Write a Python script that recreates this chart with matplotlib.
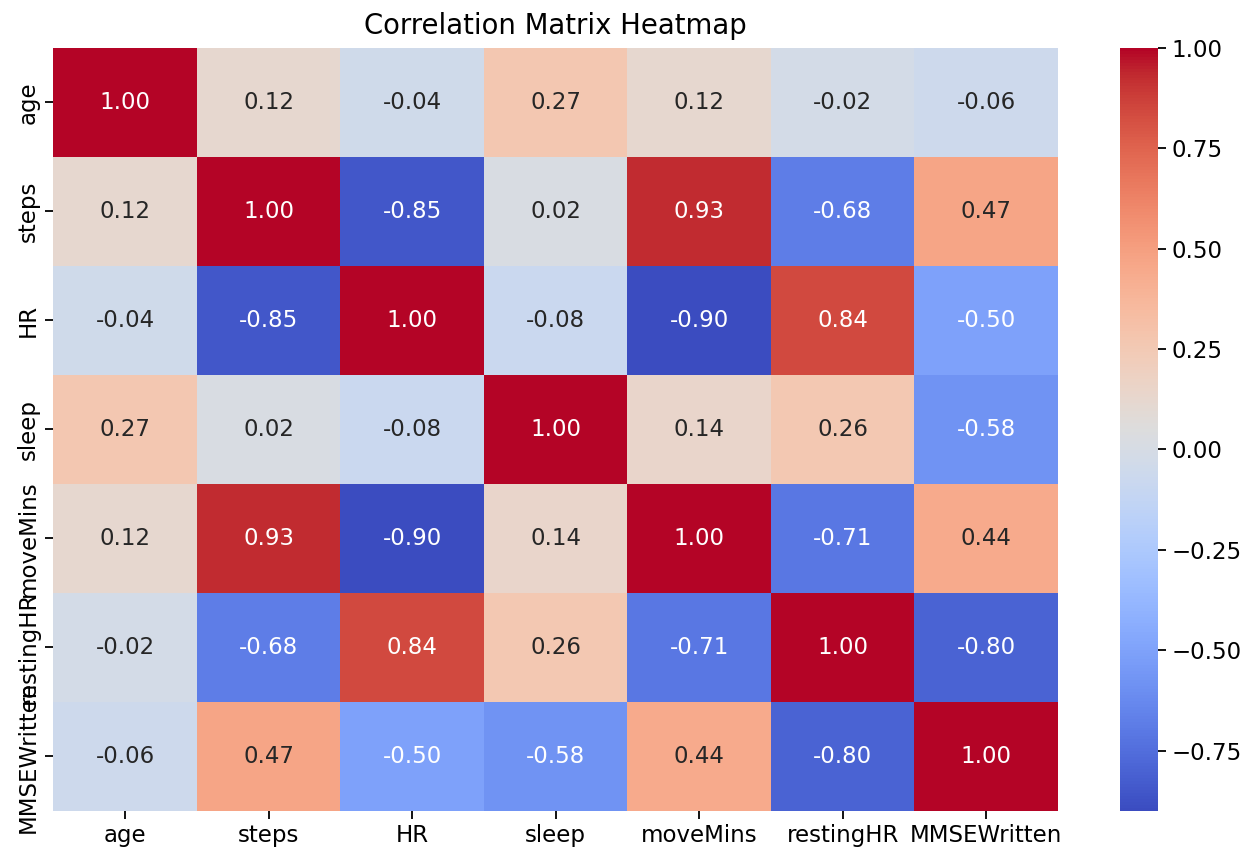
import matplotlib
matplotlib.use("Agg")
import matplotlib.pyplot as plt
import seaborn as sns
import numpy as np
import pandas as pd

labels = ["age", "steps", "HR", "sleep", "moveMins", "restingHR", "MMSEWritten"]
row_age = [1.00, 0.12, -0.04, 0.27, 0.12, -0.02, -0.06]
row_steps = [0.12, 1.00, -0.85, 0.02, 0.93, -0.68, 0.47]
row_hr = [-0.04, -0.85, 1.00, -0.08, -0.90, 0.84, -0.50]
row_sleep = [0.27, 0.02, -0.08, 1.00, 0.14, 0.26, -0.58]
row_move = [0.12, 0.93, -0.90, 0.14, 1.00, -0.71, 0.44]
row_resting = [-0.02, -0.68, 0.84, 0.26, -0.71, 1.00, -0.80]
row_mmse = [-0.06, 0.47, -0.50, -0.58, 0.44, -0.80, 1.00]

corr = pd.DataFrame([row_age, row_steps, row_hr, row_sleep, row_move, row_resting, row_mmse],
                    index=labels, columns=labels)

fs = 16.5
fig = plt.figure(figsize=(12.44, 8.49), dpi=100)
ax = fig.add_axes([53.3/1244, 1 - 811/849, (1058 - 53.3)/1244, (811 - 47.7)/849])
cax = fig.add_axes([1120/1244, 1 - 811/849, 38/1244, (811 - 47.7)/849])

sns.heatmap(corr, annot=True, fmt=".2f", cmap="coolwarm", ax=ax, cbar_ax=cax,
            annot_kws={"fontsize": fs})
ax.set_title("Correlation Matrix Heatmap", fontsize=19.8, pad=10)
ax.tick_params(axis="both", labelsize=fs, length=6, width=1.3)
cax.tick_params(labelsize=fs, length=6, width=1.3)
cax.set_yticks([-0.75, -0.5, -0.25, 0.0, 0.25, 0.5, 0.75, 1.0])
cax.set_yticklabels(["\u22120.75", "\u22120.50", "\u22120.25", "0.00", "0.25", "0.50", "0.75", "1.00"])

fig.savefig("out.png", dpi=100)
